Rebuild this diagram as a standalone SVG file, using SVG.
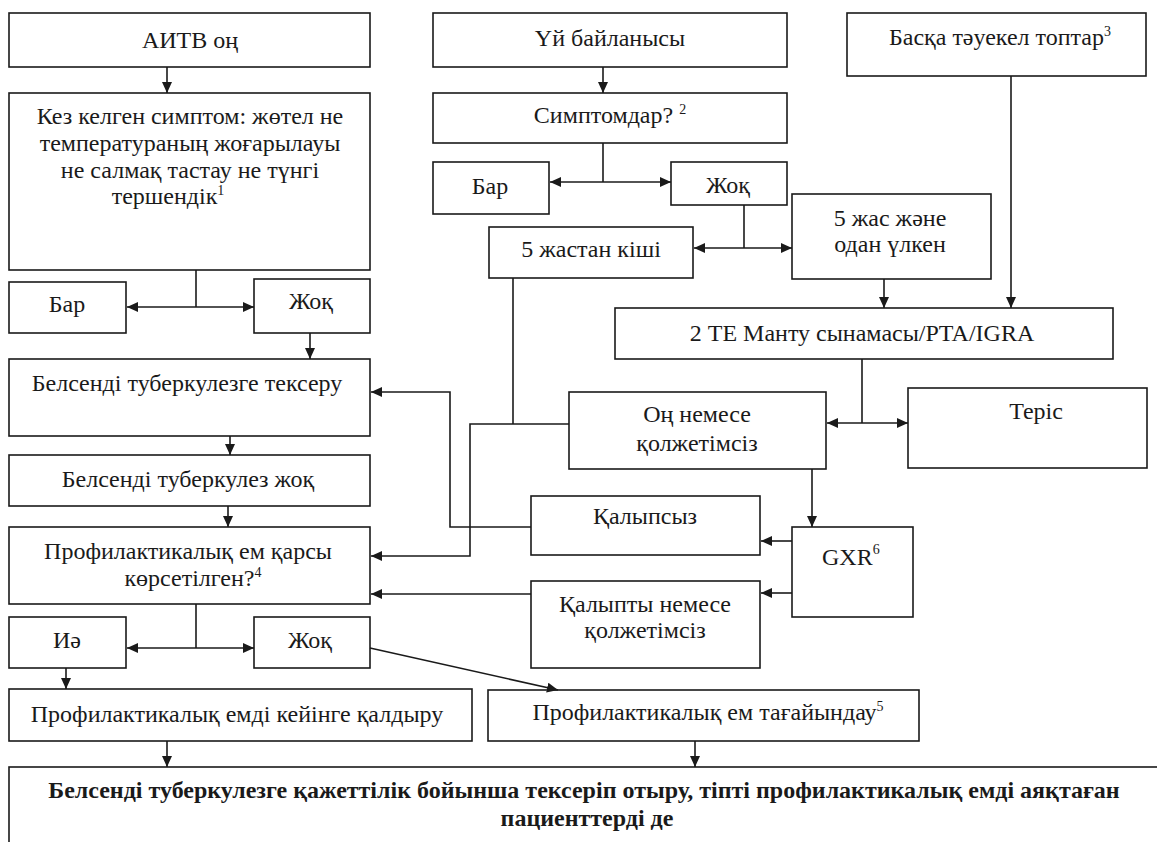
<svg xmlns="http://www.w3.org/2000/svg" width="1157" height="842" viewBox="0 0 1157 842">
<defs>
<marker id="ah" markerUnits="userSpaceOnUse" markerWidth="12" markerHeight="10" refX="11" refY="5" orient="auto">
<path d="M0,0 L11,5 L0,10 z" fill="#1a1a1a"/>
</marker>
<style>
rect{fill:#fff;stroke:#1a1a1a;stroke-width:1.6}
text{font-family:"Liberation Serif","Times New Roman",serif;font-size:24px;fill:#1a1a1a;text-anchor:middle}
.b{font-weight:bold}
.s{font-size:14px}
#connectors path,#connectors line{fill:none;stroke:#1a1a1a;stroke-width:1.6}
.a{marker-end:url(#ah)}
</style>
</defs>
<rect x="0" y="0" width="1157" height="842" style="stroke:none"/>

<g id="n_aitv"><rect x="9" y="13" width="361" height="54"/><text x="190" y="48">АИТВ оң</text></g>
<g id="n_symptom"><rect x="9" y="93" width="361" height="177"/>
<text x="190" y="124">Кез келген симптом: жөтел не</text>
<text x="190" y="151">температураның жоғарылауы</text>
<text x="190" y="178">не салмақ тастау не түнгі</text>
<text x="168" y="204">тершендік<tspan class="s" dy="-9">1</tspan></text></g>
<g id="n_bar1"><rect x="9" y="282" width="117" height="51"/><text x="67" y="312">Бар</text></g>
<g id="n_zhok1"><rect x="254" y="279" width="116" height="54"/><text x="311" y="309">Жоқ</text></g>
<g id="n_tekseru"><rect x="9" y="359" width="361" height="77"/><text x="187" y="391">Белсенді туберкулезге тексеру</text></g>
<g id="n_tbzhok"><rect x="9" y="455" width="361" height="51"/><text x="188" y="487">Белсенді туберкулез жоқ</text></g>
<g id="n_karsy"><rect x="9" y="527" width="361" height="77"/>
<text x="188" y="559">Профилактикалық ем қарсы</text>
<text x="193" y="586">көрсетілген?<tspan class="s" dy="-9">4</tspan></text></g>
<g id="n_ie"><rect x="9" y="617" width="117" height="51"/><text x="67" y="648">Иә</text></g>
<g id="n_zhok3"><rect x="254" y="617" width="116" height="51"/><text x="310" y="648">Жоқ</text></g>
<g id="n_keyinge"><rect x="9" y="689" width="463" height="52"/><text x="237" y="722">Профилактикалық емді кейінге қалдыру</text></g>
<g id="n_tagayyn"><rect x="488" y="690" width="431" height="51"/><text x="708" y="720">Профилактикалық ем тағайындау<tspan class="s" dy="-9">5</tspan></text></g>
<g id="n_final"><rect x="9" y="767" width="1160" height="100"/>
<text class="b" x="584" y="798">Белсенді туберкулезге қажеттілік бойынша тексеріп отыру, тіпті профилактикалық емді аяқтаған</text>
<text class="b" x="587" y="826">пациенттерді де</text></g>

<g id="n_uy"><rect x="433" y="13" width="354" height="54"/><text x="610" y="46">Үй байланысы</text></g>
<g id="n_symptomdar"><rect x="433" y="93" width="354" height="50"/><text x="610" y="123">Симптомдар? <tspan class="s" dy="-9">2</tspan></text></g>
<g id="n_bar2"><rect x="433" y="162" width="116" height="52"/><text x="490" y="194">Бар</text></g>
<g id="n_zhok2"><rect x="671" y="162" width="116" height="43"/><text x="728" y="193">Жоқ</text></g>
<g id="n_kishi"><rect x="489" y="227" width="204" height="51"/><text x="591" y="257">5 жастан кіші</text></g>
<g id="n_ulken"><rect x="792" y="194" width="199" height="85"/>
<text x="890" y="226">5 жас және</text><text x="890" y="252">одан үлкен</text></g>
<g id="n_baska"><rect x="847" y="13" width="299" height="63"/><text x="1000" y="45">Басқа тәуекел топтар<tspan class="s" dy="-9">3</tspan></text></g>
<g id="n_mantu"><rect x="615" y="308" width="498" height="51"/><text x="862" y="341">2 ТЕ Манту сынамасы/PTA/IGRA</text></g>
<g id="n_on"><rect x="569" y="392" width="257" height="77"/>
<text x="697" y="422">Оң немесе</text><text x="697" y="451">қолжетімсіз</text></g>
<g id="n_teris"><rect x="908" y="388" width="239" height="80"/><text x="1036" y="419">Теріс</text></g>
<g id="n_kalypsyz"><rect x="531" y="496" width="229" height="59"/><text x="645" y="524">Қалыпсыз</text></g>
<g id="n_gxr"><rect x="792" y="527" width="121" height="90"/><text x="822" y="565" style="text-anchor:start">GXR<tspan class="s" dy="-11">6</tspan></text></g>
<g id="n_kalypty"><rect x="531" y="581" width="229" height="87"/>
<text x="645" y="612">Қалыпты немесе</text><text x="645" y="638">қолжетімсіз</text></g>

<g id="connectors">
<line class="a" x1="167" y1="67" x2="167" y2="93"/>
<line x1="196" y1="270" x2="196" y2="307"/>
<line class="a" x1="196" y1="307" x2="127" y2="307"/>
<line class="a" x1="196" y1="307" x2="254" y2="307"/>
<line class="a" x1="310" y1="333" x2="310" y2="359"/>
<line class="a" x1="230" y1="436" x2="230" y2="455"/>
<line class="a" x1="228" y1="506" x2="228" y2="527"/>
<line x1="196" y1="604" x2="196" y2="648"/>
<line class="a" x1="196" y1="648" x2="127" y2="648"/>
<line class="a" x1="196" y1="648" x2="254" y2="648"/>
<line class="a" x1="66" y1="668" x2="66" y2="689"/>
<line class="a" x1="167" y1="741" x2="167" y2="767"/>
<line class="a" x1="695" y1="741" x2="695" y2="767"/>
<line class="a" x1="370" y1="648" x2="558" y2="690"/>
<line class="a" x1="603" y1="67" x2="603" y2="93"/>
<line x1="603" y1="143" x2="603" y2="182"/>
<line class="a" x1="603" y1="182" x2="550" y2="182"/>
<line class="a" x1="603" y1="182" x2="671" y2="182"/>
<line x1="744" y1="205" x2="744" y2="248"/>
<line class="a" x1="744" y1="248" x2="694" y2="248"/>
<line class="a" x1="744" y1="248" x2="792" y2="248"/>
<line class="a" x1="884" y1="279" x2="884" y2="308"/>
<line class="a" x1="1011" y1="76" x2="1011" y2="308"/>
<line x1="862" y1="359" x2="862" y2="423"/>
<line class="a" x1="862" y1="423" x2="827" y2="423"/>
<line class="a" x1="862" y1="423" x2="908" y2="423"/>
<line x1="513" y1="278" x2="513" y2="424"/>
<path class="a" d="M569,424 H470 V556 H371"/>
<path class="a" d="M531,527 H450 V392 H371"/>
<line class="a" x1="812" y1="469" x2="812" y2="527"/>
<line class="a" x1="792" y1="541" x2="761" y2="541"/>
<line class="a" x1="792" y1="593" x2="761" y2="593"/>
<line class="a" x1="531" y1="594" x2="371" y2="594"/>
</g>
</svg>
